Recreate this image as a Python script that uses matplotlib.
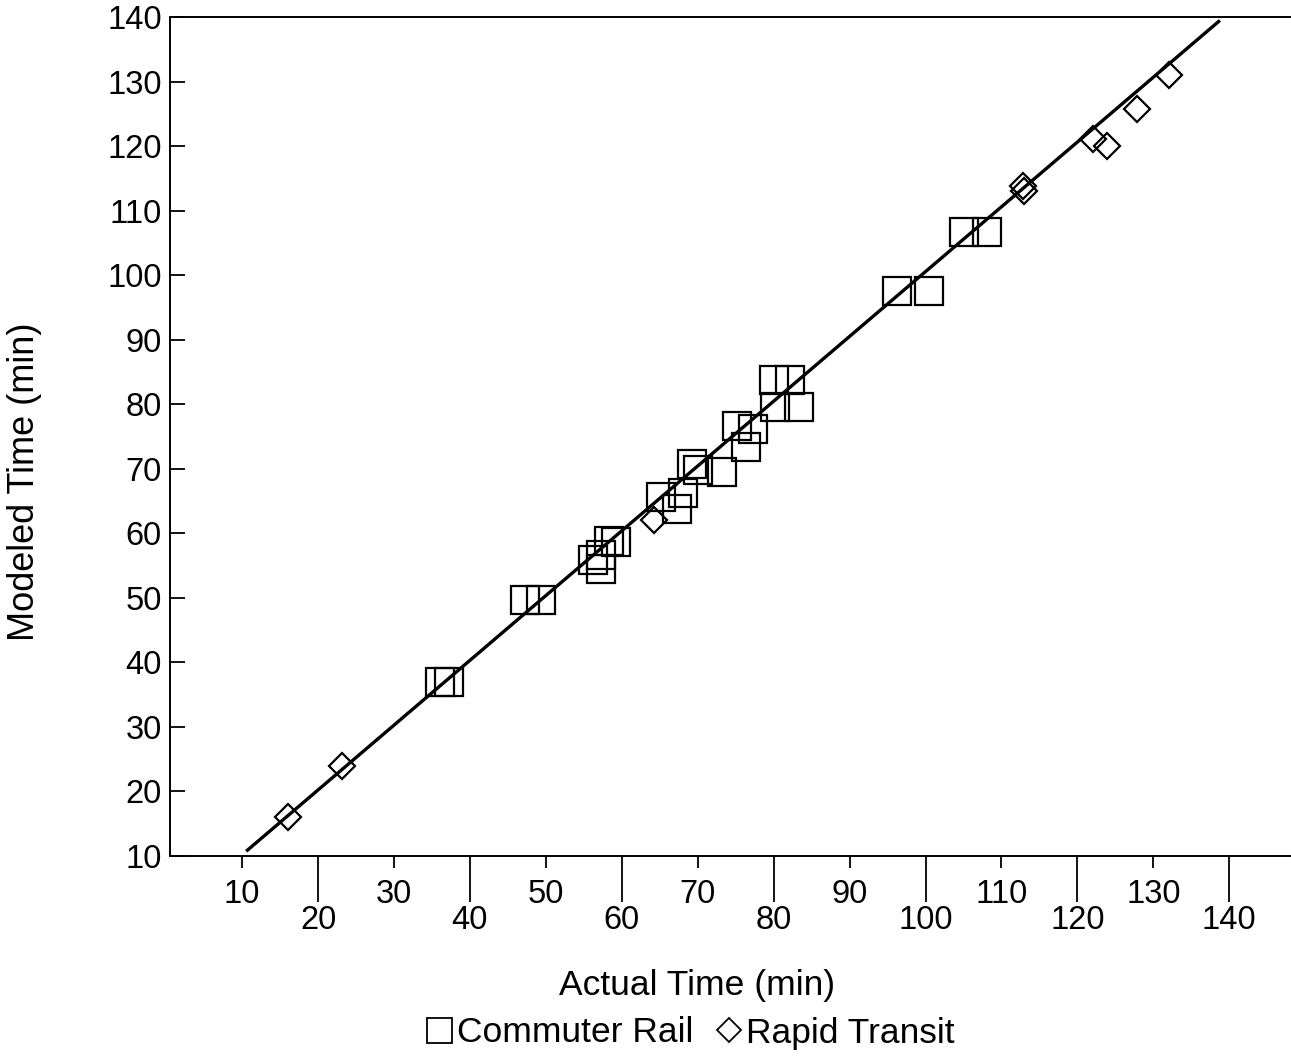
import matplotlib
matplotlib.use("Agg")
import matplotlib.pyplot as plt
from matplotlib.lines import Line2D
from matplotlib.ticker import FixedLocator, FixedFormatter

plt.rcParams['font.family'] = ['Liberation Sans', 'DejaVu Sans']

# Commuter rail (squares)
cr_actual = [36.1, 37.2, 47.3, 49.3, 58.3, 59.3, 57.3, 56.2, 57.2,
             65.2, 67.3, 68.1, 69.3, 70.1, 73.2, 75.2, 77.3, 76.3,
             80.1, 82.1, 80.2, 83.3, 96.2, 100.4, 105.1, 108.1]
cr_model = [37.0, 37.0, 49.6, 49.6, 58.8, 58.7, 56.6, 55.8, 54.5,
            65.7, 63.7, 66.3, 70.8, 69.8, 69.5, 76.6, 76.2, 73.3,
            83.7, 83.7, 79.6, 79.5, 97.6, 97.6, 106.7, 106.7]

# Rapid transit (diamonds)
rt_actual = [16.0, 23.1, 64.3, 112.8, 113.0, 122.0, 123.9, 127.9, 132.0]
rt_model = [16.0, 24.0, 62.0, 113.8, 113.0, 121.1, 120.0, 125.8, 131.0]

# Fitted line
line_x = [10.7, 138.6]
line_y = [10.9, 139.3]

odd_ticks = [10, 30, 50, 70, 90, 110, 130]
even_ticks = [20, 40, 60, 80, 100, 120, 140]
y_ticks = [10, 20, 30, 40, 50, 60, 70, 80, 90, 100, 110, 120, 130, 140]

fig = plt.figure(figsize=(12.91, 10.57), dpi=100)
ax = fig.add_axes([170/1291, 1-856/1057, 1120/1291, (856-17)/1057])

ax.plot(line_x, line_y, color='black', lw=2.4, zorder=3)
ax.plot(cr_actual, cr_model, linestyle='none', marker='s', markersize=19.5,
        markerfacecolor='none', markeredgecolor='black', markeredgewidth=1.6, zorder=2)
ax.plot(rt_actual, rt_model, linestyle='none', marker='D', markersize=13.5,
        markerfacecolor='none', markeredgecolor='black', markeredgewidth=1.6, zorder=2)

ax.set_xlim(0.5, 148)
ax.set_ylim(10, 140)

ax.spines['right'].set_visible(False)
for s in ['left', 'bottom', 'top']:
    ax.spines[s].set_linewidth(1.4)

ax.xaxis.set_major_locator(FixedLocator(even_ticks))
ax.xaxis.set_major_formatter(FixedFormatter([str(t) for t in even_ticks]))
ax.xaxis.set_minor_locator(FixedLocator(odd_ticks))
ax.xaxis.set_minor_formatter(FixedFormatter([str(t) for t in odd_ticks]))
ax.tick_params(axis='x', which='major', direction='out', length=33, width=1.3,
               pad=2, labelsize=23.5)
ax.tick_params(axis='x', which='minor', direction='out', length=8.5, width=1.3,
               pad=8, labelsize=23.5)

ax.set_yticks(y_ticks)
ax.set_yticklabels([str(t) for t in y_ticks])
ax.tick_params(axis='y', which='major', direction='in', length=11, width=1.3,
               pad=6, labelsize=23.5)

fig.text(697/1291, 1-985/1057, 'Actual Time (min)', ha='center', va='center', fontsize=25.5)
fig.text(25/1291, 1-482/1057, 'Modeled Time (min)', ha='center', va='center',
         rotation=90, fontsize=26)

handles = [
    Line2D([], [], linestyle='none', marker='s', markersize=18, markerfacecolor='none',
           markeredgecolor='black', markeredgewidth=1.3),
    Line2D([], [], linestyle='none', marker='D', markersize=12.5, markerfacecolor='none',
           markeredgecolor='black', markeredgewidth=1.3),
]
fig.legend(handles, ['Commuter Rail', 'Rapid Transit'], loc='center',
           bbox_to_anchor=(690/1291, 1-1033/1057), ncol=2, frameon=False,
           fontsize=25.5, handlelength=0.8, handletextpad=0.1, columnspacing=0.6,
           borderpad=0, borderaxespad=0)

fig.savefig('out.png', dpi=100)
